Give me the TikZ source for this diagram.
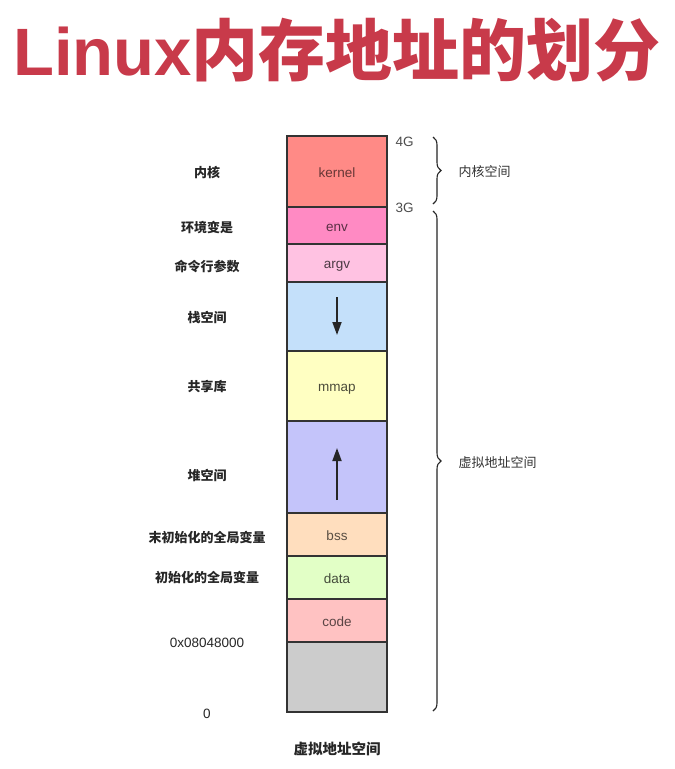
\documentclass[tikz,border=0pt]{standalone}
\usepackage{fontspec}
\setmainfont{Liberation Sans}
\newfontfamily\cjk{Noto Sans CJK SC}
\usetikzlibrary{decorations.pathreplacing,arrows.meta}
\definecolor{titlered}{HTML}{C83A4A}
\definecolor{ckernel}{HTML}{FF8A86}
\definecolor{cenv}{HTML}{FF8AC3}
\definecolor{cargv}{HTML}{FFC2E2}
\definecolor{cstack}{HTML}{C4E0FA}
\definecolor{cmmap}{HTML}{FFFFC2}
\definecolor{cheap}{HTML}{C4C4FA}
\definecolor{cbss}{HTML}{FFDEBE}
\definecolor{cdata}{HTML}{E2FFC6}
\definecolor{ccode}{HTML}{FFC2C2}
\definecolor{cgray}{HTML}{CCCCCC}
\definecolor{edge}{HTML}{333333}
\tikzset{
  seg/.style={draw=edge, line width=1.4pt, minimum width=100pt, inner sep=0pt, outer sep=0pt,
    text height=12pt, text depth=1pt, anchor=north, font=\fontsize{13.5}{15}\selectfont},
  leftlab/.style={font=\cjk\bfseries\fontsize{13}{15}\selectfont, text=black!85},
  rightlab/.style={font=\cjk\fontsize{13}{15}\selectfont, text=black!80, anchor=west},
  gval/.style={font=\fontsize{13.5}{15}\selectfont, text=black!70, anchor=west},
  brc/.style={decorate, decoration={brace, amplitude=8pt}, line width=1.1pt, draw=black!85},
  growarrow/.style={line width=1.8pt, draw=black!85, -{Triangle[length=13pt,width=9pt]}}
}
\begin{document}
\begin{tikzpicture}[x=1pt,y=-1pt]
\useasboundingbox[fill=white] (0,0) rectangle (675,769);
% title
\node[text=titlered, inner sep=0pt] (title) at (337,50)
  {\bfseries\fontsize{67}{70}\selectfont Linux\cjk\bfseries 内存地址的划分};
% segments
\node[seg, fill=ckernel, minimum height=71pt, text=ckernel!40!black] (kernel) at (337,136) {kernel};
\node[seg, fill=cenv, minimum height=37pt, text=cenv!35!black] (env) at (kernel.south) {env};
\node[seg, fill=cargv, minimum height=38pt, text=cargv!30!black] (argv) at (env.south) {argv};
\node[seg, fill=cstack, minimum height=69pt] (stack) at (argv.south) {};
\node[seg, fill=cmmap, minimum height=70pt, text=cmmap!30!black] (mmap) at (stack.south) {mmap};
\node[seg, fill=cheap, minimum height=92pt] (heap) at (mmap.south) {};
\node[seg, fill=cbss, minimum height=43pt, text=cbss!35!black] (bss) at (heap.south) {bss};
\node[seg, fill=cdata, minimum height=43pt, text=cdata!30!black] (data) at (bss.south) {data};
\node[seg, fill=ccode, minimum height=43pt, text=ccode!35!black] (code) at (data.south) {code};
\node[seg, fill=cgray, minimum height=70pt] (gray) at (code.south) {};
% growth arrows
\coordinate (s1) at ([yshift=-15pt]stack.north);
\coordinate (s2) at ([yshift=16pt]stack.south);
\draw[growarrow] (s1) -- (s2);
\coordinate (h1) at ([yshift=13pt]heap.south);
\coordinate (h2) at ([yshift=-27pt]heap.north);
\draw[growarrow] (h1) -- (h2);
% left labels
\node[leftlab] (l1) at (207,172) {内核};
\node[leftlab] (l2) at (207,227) {环境变是};
\node[leftlab] (l3) at (207,266) {命令行参数};
\node[leftlab] (l4) at (207,317) {栈空间};
\node[leftlab] (l5) at (207,387) {共享库};
\node[leftlab] (l6) at (207,475) {堆空间};
\node[leftlab] (l7) at (207,537) {末初始化的全局变量};
\node[leftlab] (l8) at (207,577) {初始化的全局变量};
\node[font=\fontsize{13.5}{15}\selectfont, text=black!85] (l9) at (207,643) {0x08048000};
\node[font=\fontsize{13.5}{15}\selectfont, text=black!85] (l10) at (207,714) {0};
% right values
\node[gval] (g4) at (392,142) {4G};
\node[gval] (g3) at (392,208) {3G};
% braces
\coordinate (b1t) at (433,137);
\coordinate (b1b) at (433,204);
\draw[brc] (b1t) -- (b1b);
\coordinate (b2t) at (433,211);
\coordinate (b2b) at (433,711);
\draw[brc] (b2t) -- (b2b);
\node[rightlab] (r1) at (455,172) {内核空间};
\node[rightlab] (r2) at (455,463) {虚拟地址空间};
% bottom caption
\node[font=\cjk\bfseries\fontsize{14.5}{16}\selectfont, text=black!85] (cap) at (337,749) {虚拟地址空间};
\end{tikzpicture}
\end{document}
